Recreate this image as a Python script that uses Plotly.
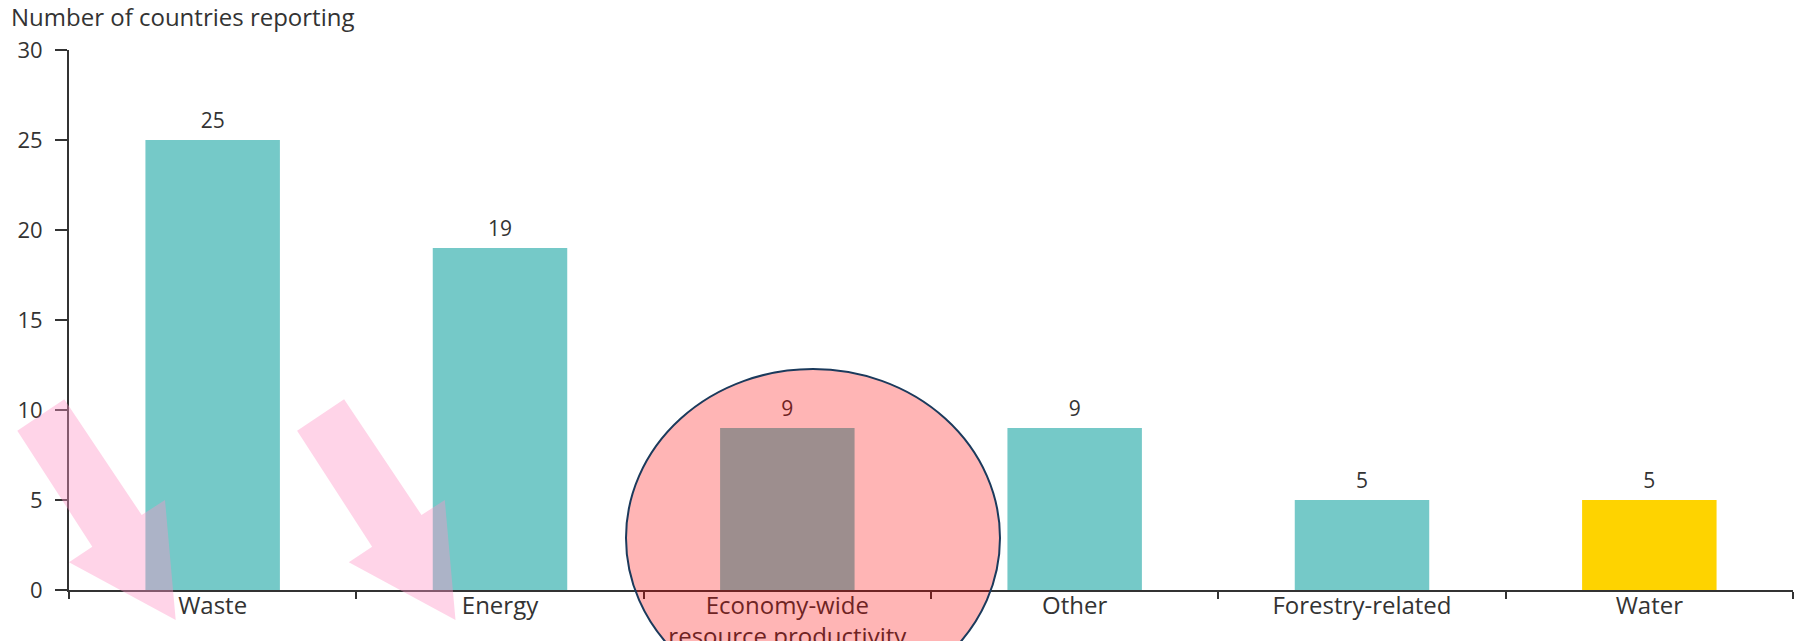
import plotly.graph_objects as go

# ---- data ----
categories = ["Waste", "Energy", "Economy-wide<br>resource productivity", "Other", "Forestry-related", "Water"]
values = [25, 19, 9, 9, 5, 5]
bar_colors = ["#75C9C8", "#75C9C8", "#75C9C8", "#75C9C8", "#75C9C8", "#FED300"]
y_ticks = [0, 5, 10, 15, 20, 25, 30]
y_title = "Number of countries reporting"

# ---- layout geometry (pixels) ----
W, H = 1798, 641
ML, MR, MT, MB = 69, 5, 50, 51
PW, PH = W - ML - MR, H - MT - MB
FONT = "Open Sans"
TXT = "#333333"


def px_to_paper(px, py):
    return (px - ML) / PW, (H - MB - py) / PH


# block-arrow outline, offsets in px relative to its tip
arrow_offsets = [(-158.4, -189.3), (-111.4, -220.7), (-34, -105), (-10.7, -120),
                 (0, 0), (-106.7, -57.7), (-83.4, -73.3)]
arrow_tips = [(175.7, 620), (455.5, 620)]


def arrow_path(tip):
    pts = [px_to_paper(tip[0] + dx, tip[1] + dy) for dx, dy in arrow_offsets]
    return "M " + " L ".join(f"{x:.5f},{y:.5f}" for x, y in pts) + " Z"


fig = go.Figure()
fig.add_trace(go.Bar(
    x=categories, y=values, marker=dict(color=bar_colors, line=dict(width=0)),
    hoverinfo="skip", showlegend=False,
))
fig.add_trace(go.Scatter(
    x=categories, y=values, mode="markers+text", text=[str(v) for v in values],
    textposition="top center", textfont=dict(family=FONT, size=21, color=TXT),
    marker=dict(size=10, color="rgba(0,0,0,0)"), cliponaxis=False,
    hoverinfo="skip", showlegend=False,
))

shapes = []
for tip in arrow_tips:
    shapes.append(dict(type="path", xref="paper", yref="paper", path=arrow_path(tip),
                       fillcolor="rgba(255,147,198,0.4)", line=dict(width=0), layer="above"))
cx0, cy0 = px_to_paper(626, 369)
cx1, cy1 = px_to_paper(1000, 707)
shapes.append(dict(type="circle", xref="paper", yref="paper", x0=cx0, y0=cy1, x1=cx1, y1=cy0,
                   fillcolor="rgba(255,0,0,0.29)", line=dict(color="#1B3A5C", width=2),
                   layer="above"))

fig.update_layout(
    width=W, height=H,
    margin=dict(l=ML, r=MR, t=MT, b=MB, pad=0, autoexpand=False),
    paper_bgcolor="white", plot_bgcolor="white",
    font=dict(family=FONT, color=TXT),
    bargap=0.532,
    title=dict(text=y_title, x=11 / W, xanchor="left", xref="container",
               y=1 - 9 / H, yanchor="top", yref="container",
               font=dict(family=FONT, size=24, color=TXT)),
    shapes=shapes,
    xaxis=dict(
        type="category", showline=True, linecolor="#333333", linewidth=2,
        ticks="outside", tickson="boundaries", ticklen=7, tickwidth=2, tickcolor="#333333",
        tickfont=dict(family=FONT, size=24, color=TXT), showgrid=False, zeroline=False,
        automargin=False, ticklabelstandoff=-7,
    ),
    yaxis=dict(
        range=[0, 30], tickvals=y_ticks, showline=True, linecolor="#333333", linewidth=2,
        ticks="outside", ticklen=12, tickwidth=2, tickcolor="#333333",
        tickfont=dict(family=FONT, size=22, color=TXT), showgrid=False, zeroline=False,
        ticklabelstandoff=8, automargin=False,
    ),
)

fig.write_html("out.html", config={"displayModeBar": False},
               post_script="document.body.style.margin='0';document.body.style.overflow='hidden';")
